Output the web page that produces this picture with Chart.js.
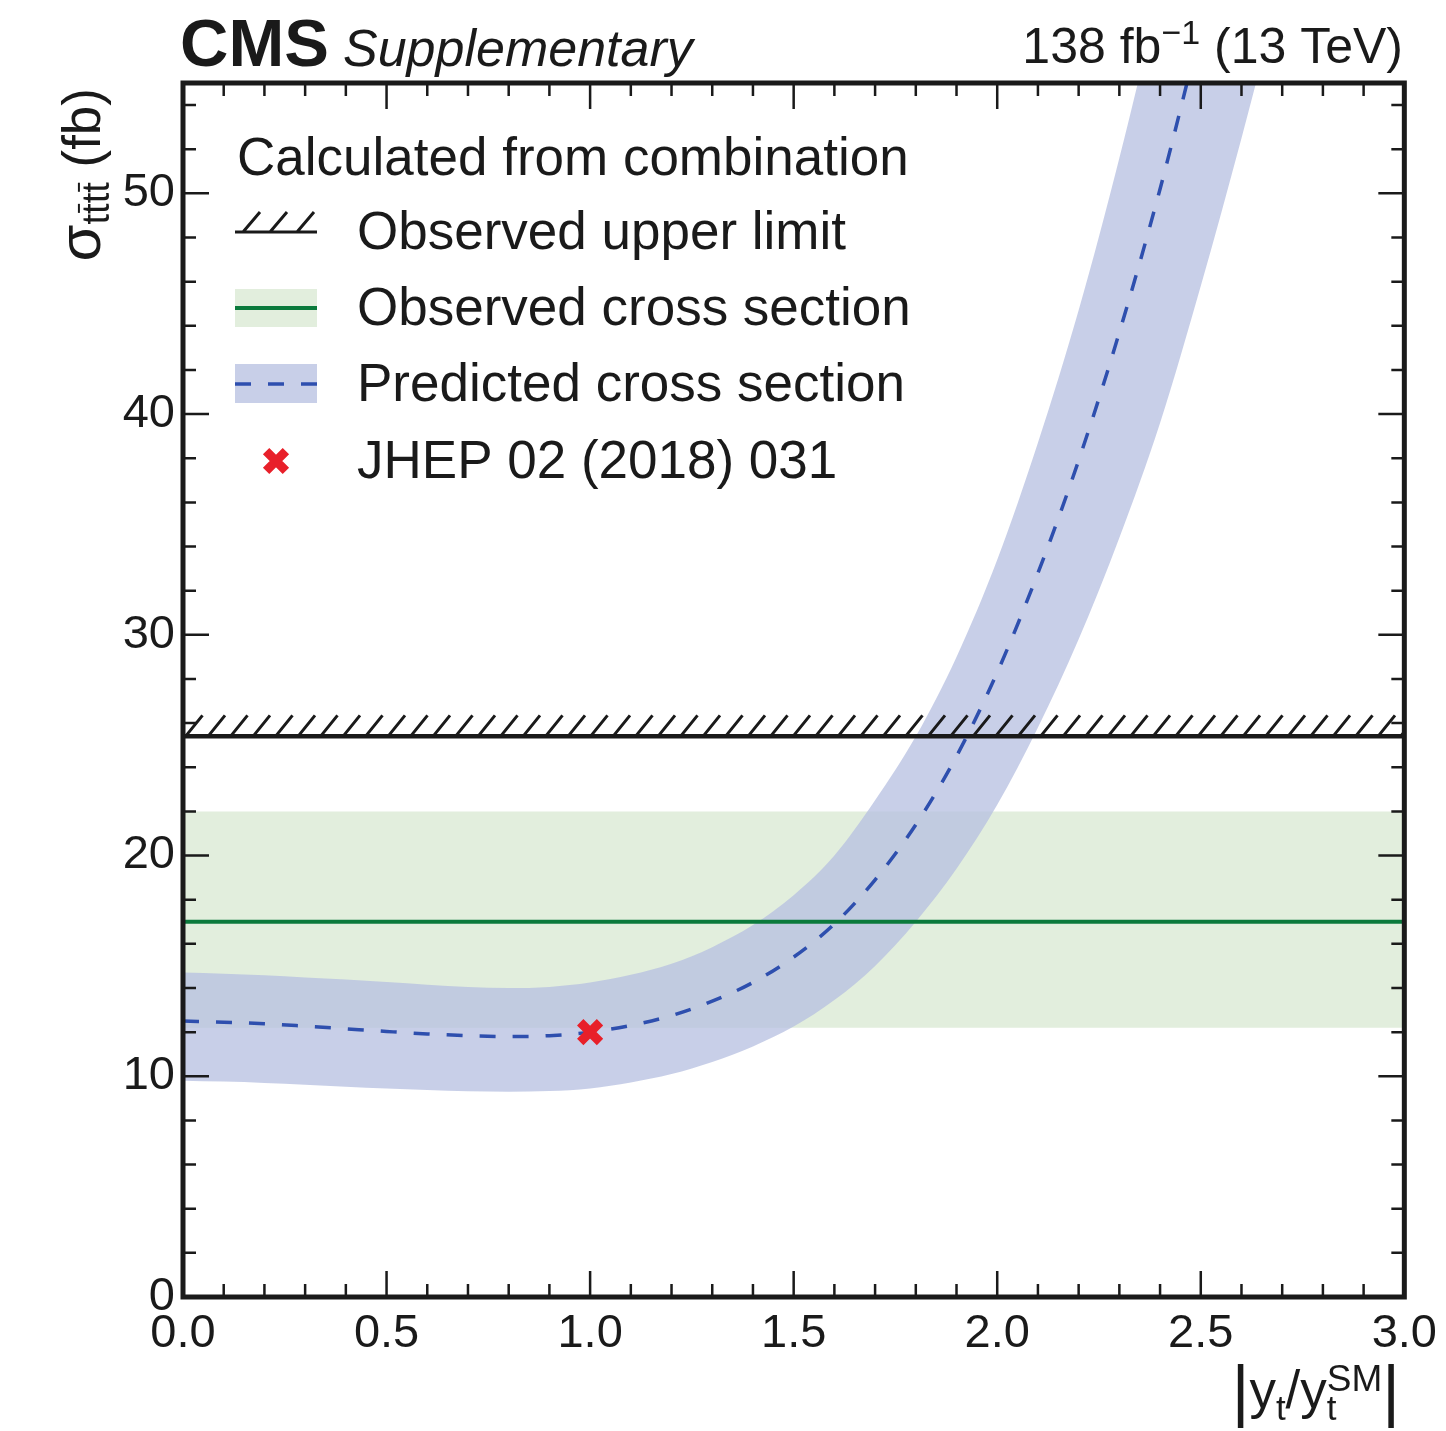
<!DOCTYPE html>
<html>
<head>
<meta charset="utf-8">
<script src="https://cdn.jsdelivr.net/npm/chart.js@4.4.1/dist/chart.umd.min.js"></script>
<style>
  html, body { margin: 0; padding: 0; background: #fff; }
  canvas { display: block; }
</style>
</head>
<body>
<canvas id="c" width="1446" height="1431"></canvas>
<script>
// |y_t / y_t^SM| grid used for the prediction and its uncertainty band
const couplingGrid = [0.0, 0.1, 0.2, 0.3, 0.4, 0.5, 0.6, 0.7, 0.8, 0.9,
                      1.0, 1.1, 1.2, 1.3, 1.4, 1.5, 1.6, 1.7, 1.8, 1.9,
                      2.0, 2.1, 2.2, 2.3, 2.4, 2.5, 2.6, 2.7];

// predicted sigma(tttt) in fb, central value (0 .. 2.5)
const predCentral = [12.5, 12.45, 12.38, 12.27, 12.15, 12.03, 11.92, 11.84, 11.8, 11.84,
                     12.0, 12.3, 12.75, 13.4, 14.25, 15.4, 16.9, 18.9, 21.4, 24.5,
                     28.3, 32.8, 37.9, 43.7, 50.2, 57.5];
// upper and lower edges of the prediction band (0 .. 2.7)
const predUpper = [14.7, 14.65, 14.58, 14.48, 14.38, 14.27, 14.15, 14.05, 14.0, 14.05,
                   14.25, 14.6, 15.1, 15.85, 16.85, 18.2, 20.0, 22.5, 25.4, 29.0,
                   33.4, 38.7, 44.7, 51.6, 59.3, 67.8, 77.0, 87.0];
const predLower = [9.8, 9.76, 9.7, 9.62, 9.53, 9.45, 9.38, 9.32, 9.3, 9.33,
                   9.45, 9.72, 10.1, 10.65, 11.35, 12.25, 13.45, 15.0, 17.0, 19.4,
                   22.3, 25.8, 29.8, 34.4, 39.6, 45.8, 52.5, 59.6];

// measured values (fb)
const obsCrossSection = [17.0];
const obsInterval = [12.2, 22.0];
const obsUpperLimit = [25.4];
const jhepX = [1.0];
const jhepY = [12.0];

const xRange = [0, 3];
const yRange = [0, 55];
const xTickValues = [0, 0.5, 1, 1.5, 2, 2.5, 3];
const yTickValues = [0, 10, 20, 30, 40, 50];

const FONT = '"Liberation Sans", Arial, Helvetica, sans-serif';
const INK = '#1a1a1a';
const BAND_BLUE = 'rgba(182,191,224,0.75)';
const BAND_GREEN = '#e2eedd';
const LINE_GREEN = '#0b7a3c';
const LINE_BLUE = '#2e4fae';
const MARK_RED = '#e8202a';
const DASH = [16, 17];

const font = (size, style) => (style ? style + ' ' : '') + size + 'px ' + FONT;
const pts = (xs, ys) => ys.map((y, i) => ({ x: xs[i], y }));
const flat = (v) => xRange.map((x) => ({ x, y: v }));

// text runs with sub/superscripts; returns the end x
function drawRuns(ctx, runs, x, y, measureOnly) {
  let cx = x;
  for (const r of runs) {
    if (r.stack) {
      let w = 0;
      for (const s of r.stack) {
        ctx.font = font(s.size, s.style);
        if (!measureOnly) ctx.fillText(s.text, cx, y + (s.dy || 0));
        w = Math.max(w, ctx.measureText(s.text).width);
      }
      cx += w;
      continue;
    }
    ctx.font = font(r.size, r.style);
    const w = ctx.measureText(r.text).width;
    if (!measureOnly) {
      ctx.fillText(r.text, cx, y + (r.dy || 0));
      if (r.bar) {
        const by = y + (r.dy || 0) - r.size * 0.66 - 5;
        ctx.save();
        ctx.lineWidth = 2;
        ctx.beginPath();
        ctx.moveTo(cx + 1, by);
        ctx.lineTo(cx + w - 0.5, by);
        ctx.stroke();
        ctx.restore();
      }
    }
    cx += w;
  }
  return cx;
}

const decor = {
  id: 'decor',
  afterDatasetsDraw(chart) {
    const { ctx, chartArea: a, scales: { x, y } } = chart;

    // hatching on the excluded side of the upper limit
    const yl = y.getPixelForValue(obsUpperLimit[0]);
    ctx.save();
    ctx.beginPath();
    ctx.rect(a.left, a.top, a.right - a.left, a.bottom - a.top);
    ctx.clip();
    ctx.strokeStyle = INK;
    ctx.lineWidth = 3;
    ctx.beginPath();
    for (let hx = a.left - 20; hx < a.right + 20; hx += 22.5) {
      ctx.moveTo(hx, yl);
      ctx.lineTo(hx + 17, yl - 21);
    }
    ctx.stroke();
    ctx.restore();

    // frame with inward ticks on all four sides
    ctx.save();
    ctx.strokeStyle = INK;
    ctx.lineWidth = 2.5;
    ctx.beginPath();
    for (let i = 0; i <= 30; i++) {
      const v = i / 10;
      const px = x.getPixelForValue(v);
      const len = i % 5 === 0 ? 26 : 13;
      ctx.moveTo(px, a.bottom); ctx.lineTo(px, a.bottom - len);
      ctx.moveTo(px, a.top); ctx.lineTo(px, a.top + len);
    }
    for (let v = 0; v <= yRange[1]; v += 2) {
      const py = y.getPixelForValue(v);
      const len = v % 10 === 0 ? 26 : 13;
      ctx.moveTo(a.left, py); ctx.lineTo(a.left + len, py);
      ctx.moveTo(a.right, py); ctx.lineTo(a.right - len, py);
    }
    ctx.stroke();
    ctx.lineWidth = 5;
    ctx.strokeRect(a.left, a.top, a.right - a.left, a.bottom - a.top);
    ctx.restore();
  },
  afterDraw(chart) {
    const { ctx } = chart;
    ctx.save();
    ctx.fillStyle = INK;
    ctx.strokeStyle = INK;
    ctx.textBaseline = 'alphabetic';
    ctx.textAlign = 'left';

    // header
    ctx.font = font(67, 'bold');
    ctx.fillText('CMS', 180, 66);
    ctx.font = font(52, 'italic');
    ctx.fillText('Supplementary', 343, 66);
    const lumi = [
      { text: '138 fb', size: 50 },
      { text: '\u22121', size: 34, dy: -19 },
      { text: ' (13 TeV)', size: 50 },
    ];
    const lw = drawRuns(ctx, lumi, 0, 0, true);
    drawRuns(ctx, lumi, 1403 - lw, 63);

    // y axis title, rotated
    const ytitle = [
      { text: '\u03c3', size: 60 },
      { text: 't', size: 38, dy: 9 },
      { text: 't', size: 38, dy: 9, bar: true },
      { text: 't', size: 38, dy: 9 },
      { text: 't', size: 38, dy: 9, bar: true },
      { text: ' (fb)', size: 53 },
    ];
    const yw = drawRuns(ctx, ytitle, 0, 0, true);
    ctx.save();
    ctx.translate(100, 88);
    ctx.rotate(-Math.PI / 2);
    drawRuns(ctx, ytitle, -yw, 0);
    ctx.restore();

    // x axis title
    const xtitle = [
      { text: '|', size: 68, dy: 6 },
      { text: 'y', size: 53 },
      { text: 't', size: 35, dy: 12 },
      { text: '/', size: 53 },
      { text: 'y', size: 53 },
      { stack: [{ text: 't', size: 35, dy: 12 }, { text: 'SM', size: 37, dy: -17 }] },
      { text: '|', size: 68, dy: 6 },
    ];
    const xw = drawRuns(ctx, xtitle, 0, 0, true);
    drawRuns(ctx, xtitle, 1400 - xw, 1408);

    // legend
    ctx.font = font(53);
    ctx.fillText('Calculated from combination', 237, 175);
    const labels = ['Observed upper limit', 'Observed cross section',
                    'Predicted cross section', 'JHEP 02 (2018) 031'];
    const rows = [249, 325, 401, 478];
    labels.forEach((t, i) => ctx.fillText(t, 357, rows[i]));

    const lx0 = 235, lx1 = 317;
    // upper limit symbol
    ctx.lineWidth = 3;
    ctx.beginPath();
    ctx.moveTo(lx0, 232); ctx.lineTo(lx1, 232);
    for (const hx of [243, 270, 297]) {
      ctx.moveTo(hx, 232); ctx.lineTo(hx + 17, 212);
    }
    ctx.stroke();
    // observed band + line
    ctx.fillStyle = BAND_GREEN;
    ctx.fillRect(lx0, 289, lx1 - lx0, 38);
    ctx.strokeStyle = LINE_GREEN;
    ctx.lineWidth = 4;
    ctx.beginPath(); ctx.moveTo(lx0, 308); ctx.lineTo(lx1, 308); ctx.stroke();
    // predicted band + dashed line
    ctx.fillStyle = BAND_BLUE;
    ctx.fillRect(lx0, 364, lx1 - lx0, 39);
    ctx.strokeStyle = LINE_BLUE;
    ctx.lineWidth = 3.5;
    ctx.setLineDash(DASH);
    ctx.beginPath(); ctx.moveTo(lx0, 384); ctx.lineTo(lx1, 384); ctx.stroke();
    ctx.setLineDash([]);
    // reference point marker
    ctx.strokeStyle = MARK_RED;
    ctx.lineWidth = 9;
    const mx = 276, my = 461, mr = 9.9;
    ctx.beginPath();
    ctx.moveTo(mx - mr, my - mr); ctx.lineTo(mx + mr, my + mr);
    ctx.moveTo(mx + mr, my - mr); ctx.lineTo(mx - mr, my + mr);
    ctx.stroke();
    ctx.restore();
  },
};

const hidden = { borderWidth: 0, borderColor: 'rgba(0,0,0,0)', pointRadius: 0 };

new Chart(document.getElementById('c'), {
  type: 'line',
  data: {
    datasets: [
      { label: 'obs hi', data: flat(obsInterval[1]), fill: false, order: 9, ...hidden },
      { label: 'obs lo', data: flat(obsInterval[0]), fill: '-1', backgroundColor: BAND_GREEN, order: 8, ...hidden },
      { label: 'pred hi', data: pts(couplingGrid, predUpper), fill: false, order: 7, ...hidden,
        cubicInterpolationMode: 'monotone' },
      { label: 'pred lo', data: pts(couplingGrid, predLower), fill: '-1', backgroundColor: BAND_BLUE, order: 6, ...hidden,
        cubicInterpolationMode: 'monotone' },
      { label: 'Observed cross section', data: flat(obsCrossSection[0]), borderColor: LINE_GREEN,
        borderWidth: 4, pointRadius: 0, fill: false, order: 5 },
      { label: 'Observed upper limit', data: flat(obsUpperLimit[0]), borderColor: INK,
        borderWidth: 4.5, pointRadius: 0, fill: false, order: 4 },
      { label: 'Predicted cross section', data: pts(couplingGrid, predCentral), borderColor: LINE_BLUE,
        borderWidth: 3.5, borderDash: DASH, pointRadius: 0, fill: false, order: 3,
        cubicInterpolationMode: 'monotone' },
      { label: 'JHEP 02 (2018) 031', data: pts(jhepX, jhepY), showLine: false, pointStyle: 'crossRot',
        pointRadius: 14, borderWidth: 9, borderColor: MARK_RED, backgroundColor: MARK_RED, order: 2 },
    ],
  },
  options: {
    responsive: false,
    devicePixelRatio: 1,
    animation: false,
    events: [],
    layout: { padding: { top: 83, right: 38, bottom: 0, left: 0 } },
    elements: { line: { tension: 0.4, capBezierPoints: false } },
    plugins: { legend: { display: false }, tooltip: { enabled: false } },
    scales: {
      x: {
        type: 'linear',
        min: xRange[0],
        max: xRange[1],
        afterBuildTicks: (s) => { s.ticks = xTickValues.map((value) => ({ value })); },
        afterFit: (s) => { s.height = 134; },
        grid: { display: false, drawTicks: false },
        border: { display: false },
        ticks: {
          callback: (v) => Number(v).toFixed(1),
          font: { family: FONT, size: 47 },
          color: INK,
          padding: 9,
          maxRotation: 0,
          autoSkip: false,
        },
      },
      y: {
        type: 'linear',
        min: yRange[0],
        max: yRange[1],
        afterBuildTicks: (s) => { s.ticks = yTickValues.map((value) => ({ value })); },
        afterFit: (s) => { s.width = 183; },
        grid: { display: false, drawTicks: false },
        border: { display: false },
        ticks: {
          callback: (v) => String(v),
          font: { family: FONT, size: 47 },
          color: INK,
          padding: 8,
          autoSkip: false,
        },
      },
    },
  },
  plugins: [decor],
});
</script>
</body>
</html>
